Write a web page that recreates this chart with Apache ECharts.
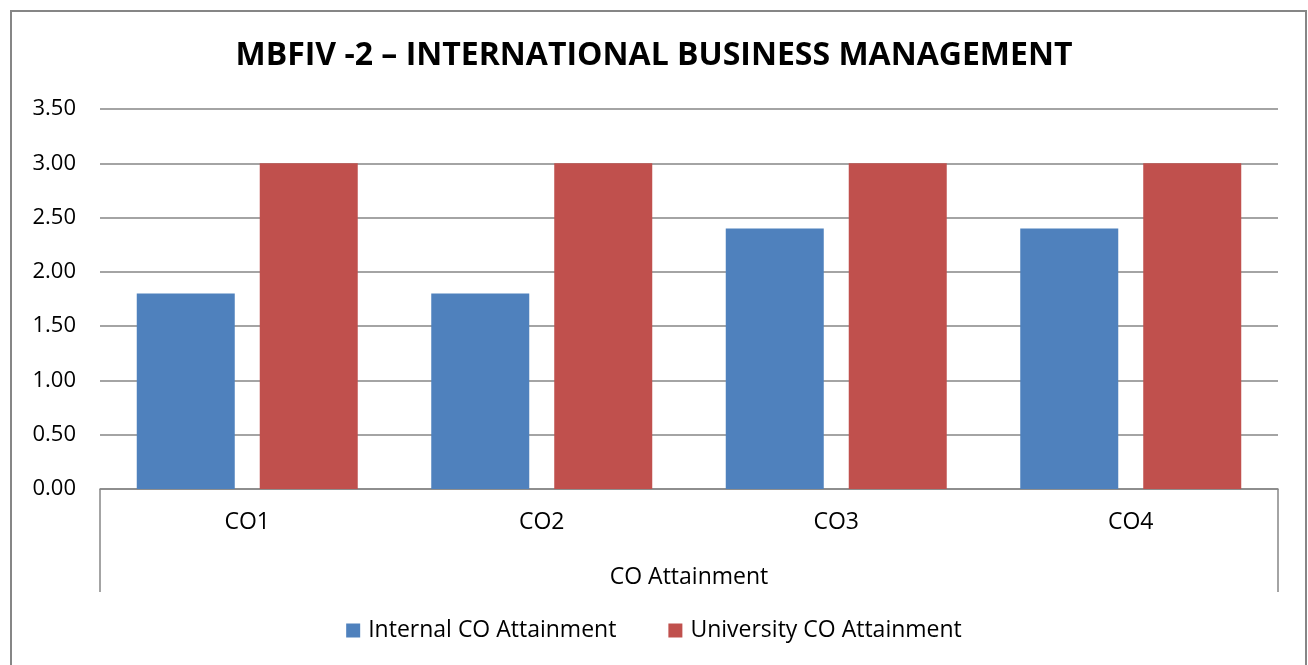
<!DOCTYPE html>
<html>
<head>
<meta charset="utf-8">
<style>
  html, body { margin: 0; padding: 0; background: #fff; }
  #chart { width: 1308px; height: 665px; }
</style>
<script src="https://cdn.jsdelivr.net/npm/echarts@6/dist/echarts.min.js"></script>
</head>
<body>
<div id="chart"></div>
<script>
// 数据
var categories = ['CO1', 'CO2', 'CO3', 'CO4'];
var internalValues = [1.8, 1.8, 2.4, 2.4];
var universityValues = [3.0, 3.0, 3.0, 3.0];
var seriesNames = ['Internal CO Attainment', 'University CO Attainment'];
var axisTitle = 'CO Attainment';
var chartTitle = 'MBFIV -2 \u2013 INTERNATIONAL BUSINESS MANAGEMENT';

(function () {
    var myChart = echarts.init(document.getElementById('chart'));
    var fontFamily = '"Open Sans", "Noto Sans", sans-serif';
    var W = 1308, H = 665;
    // 网格位置
    var gLeft = 100, gRight = 30, gTop = 109, gBottom = 176;
    var axisY = H - gBottom;

    var option = {
        animation: false,
        color: ['#4f81bd', '#c0504d'],
        title: {
            text: chartTitle,
            left: 'center',
            top: 35,
            textStyle: {
                fontFamily: fontFamily,
                fontSize: 32,
                fontWeight: 'bold',
                color: '#000'
            }
        },
        legend: {
            bottom: 18,
            left: 'center',
            itemWidth: 14,
            itemHeight: 14,
            itemGap: 52,
            icon: 'rect',
            textStyle: {
                fontFamily: fontFamily,
                fontSize: 23,
                color: '#000',
                padding: [0, 0, 0, 3]
            },
            data: seriesNames
        },
        grid: {
            left: gLeft,
            right: gRight,
            top: gTop,
            bottom: gBottom
        },
        xAxis: {
            type: 'category',
            data: categories,
            name: axisTitle,
            nameLocation: 'middle',
            nameGap: 77,
            nameTextStyle: {
                fontFamily: fontFamily,
                fontSize: 23,
                color: '#000'
            },
            axisTick: { show: false },
            axisLine: {
                lineStyle: { color: '#868686', width: 1.5 }
            },
            axisLabel: {
                margin: 22,
                fontFamily: fontFamily,
                fontSize: 23,
                color: '#000'
            }
        },
        yAxis: {
            type: 'value',
            min: 0,
            max: 3.5,
            interval: 0.5,
            axisLine: { show: false },
            axisTick: { show: false },
            axisLabel: {
                margin: 24,
                fontFamily: fontFamily,
                fontSize: 22,
                color: '#000',
                formatter: function (v) { return v.toFixed(2); }
            },
            splitLine: {
                lineStyle: { color: '#868686', width: 1.5 }
            }
        },
        series: [
            {
                name: seriesNames[0],
                type: 'bar',
                data: internalValues,
                barWidth: 98,
                barGap: '25.5%'
            },
            {
                name: seriesNames[1],
                type: 'bar',
                data: universityValues,
                barWidth: 98,
                barGap: '25.5%'
            }
        ],
        graphic: [
            // 外边框
            {
                type: 'rect',
                shape: { x: 11, y: 11, width: W - 13, height: H + 20 },
                style: { fill: 'none', stroke: '#868686', lineWidth: 2 },
                silent: true
            },
            // 多级分类轴的竖线
            {
                type: 'line',
                shape: { x1: gLeft, y1: axisY, x2: gLeft, y2: axisY + 103 },
                style: { stroke: '#868686', lineWidth: 1.5 },
                silent: true
            },
            {
                type: 'line',
                shape: { x1: W - gRight, y1: axisY, x2: W - gRight, y2: axisY + 103 },
                style: { stroke: '#868686', lineWidth: 1.5 },
                silent: true
            }
        ]
    };
    myChart.setOption(option);
    window.addEventListener('resize', function () {
        myChart.resize();
    });
})();
</script>
</body>
</html>
